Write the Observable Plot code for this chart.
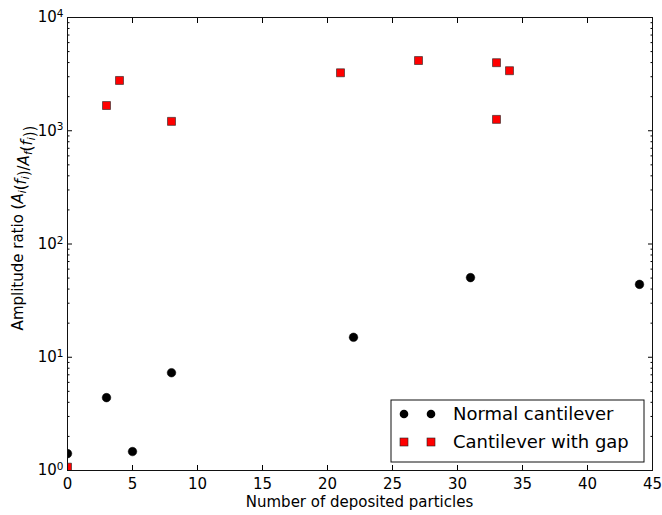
<!DOCTYPE html>
<html><head><meta charset="utf-8">
<script src="https://cdn.jsdelivr.net/npm/d3@7"></script>
<script src="https://cdn.jsdelivr.net/npm/@observablehq/plot@0.6"></script>
<style>body{margin:0;background:#fff}</style>
</head><body><div id="chart"></div>
<script>
// Data
const seriesNames = ["Normal cantilever", "Cantilever with gap"];
const normalX = [0, 3, 5, 8, 22, 31, 44];
const normalY = [1.41, 4.4, 1.47, 7.3, 15.0, 50.5, 44];
const gapX = [0, 3, 4, 8, 21, 27, 33, 34, 33];
const gapY = [1.07, 1670, 2780, 1210, 3250, 4170, 3990, 3390, 1260];
const xTicks = [0, 5, 10, 15, 20, 25, 30, 35, 40, 45];
const yMajor = [1, 10, 100, 1000, 10000];
const yMinor = [2,3,4,5,6,7,8,9,20,30,40,50,60,70,80,90,200,300,400,500,600,700,800,900,2000,3000,4000,5000,6000,7000,8000,9000];
const xLabel = "Number of deposited particles";

const normal = normalX.map((x, i) => ({x, y: normalY[i]}));
const gap = gapX.map((x, i) => ({x, y: gapY[i]}));

const font = "DejaVu Sans";
const chart = Plot.plot({
  width: 662, height: 515,
  marginLeft: 67, marginRight: 10, marginTop: 17, marginBottom: 45,
  style: {fontFamily: font, fontSize: "15px", color: "#000", background: "#fff"},
  x: {domain: [0, 45]},
  y: {type: "log", domain: [1, 10000]},
  marks: [
    Plot.axisX({anchor: "bottom", ticks: xTicks, tickSize: -5, tickPadding: 13, label: null, tickFormat: d => String(d)}),
    Plot.axisX({anchor: "top", ticks: xTicks, tickSize: -5, label: null, tickFormat: () => ""}),
    Plot.axisY({anchor: "left", ticks: yMajor, tickSize: -5, tickPadding: 9, label: null, tickFormat: d => "10|" + Math.round(Math.log10(d))}),
    Plot.axisY({anchor: "left", ticks: yMinor, tickSize: -2.5, label: null, tickFormat: () => ""}),
    Plot.axisY({anchor: "right", ticks: yMajor, tickSize: -5, label: null, tickFormat: () => ""}),
    Plot.axisY({anchor: "right", ticks: yMinor, tickSize: -2.5, label: null, tickFormat: () => ""}),
    Plot.dot(normal, {x: "x", y: "y", r: 4.3, fill: "#000", stroke: "#000", strokeWidth: 0.5, clip: true}),
    Plot.dot(gap, {x: "x", y: "y", symbol: "square", r: 4.5, fill: "#ff0000", stroke: "#222", strokeWidth: 0.6, clip: true}),
    Plot.frame({stroke: "#111", strokeWidth: 1})
  ]
});
document.getElementById("chart").appendChild(chart);

const svg = d3.select(chart);
// superscript tick labels on the log axis
svg.selectAll('g[aria-label="y-axis tick label"] text').each(function() {
  const t = this.textContent;
  if (!t.includes("|")) return;
  const [base, exp] = t.split("|");
  const el = d3.select(this);
  el.text("");
  el.append("tspan").text(base);
  el.append("tspan").attr("dy", "-0.5em").attr("font-size", "10.5px").text(exp);
});

// axis labels
svg.append("text")
  .attr("x", 359.5).attr("y", 507)
  .attr("text-anchor", "middle")
  .attr("font-family", font).attr("font-size", "15px")
  .text(xLabel);

const yl = svg.append("text")
  .attr("transform", "translate(23,228) rotate(-90)")
  .attr("text-anchor", "middle")
  .attr("font-family", font).attr("font-size", "15px");
yl.append("tspan").text("Amplitude ratio (");
const it = (s) => yl.append("tspan").attr("font-style", "italic").text(s);
const sub = (s) => { yl.append("tspan").attr("font-style", "italic").attr("font-size", "10.5px").attr("dy", "3").text(s); yl.append("tspan").attr("dy", "-3").text(""); };
it("A"); sub("i");
yl.append("tspan").text("(");
it("f"); sub("i");
yl.append("tspan").text(")/");
it("A"); sub("f");
yl.append("tspan").text("(");
it("f"); sub("i");
yl.append("tspan").text("))");

// legend
const lg = svg.append("g");
lg.append("rect").attr("x", 391).attr("y", 400).attr("width", 253).attr("height", 62)
  .attr("fill", "#fff").attr("stroke", "#111").attr("stroke-width", 1);
const rows = [414, 442];
seriesNames.forEach((name, i) => {
  [404, 431].forEach(cx => {
    if (i === 0) lg.append("circle").attr("cx", cx).attr("cy", rows[i]).attr("r", 4.3).attr("fill", "#000");
    else lg.append("rect").attr("x", cx - 4).attr("y", rows[i] - 4).attr("width", 8).attr("height", 8)
      .attr("fill", "#ff0000").attr("stroke", "#222").attr("stroke-width", 0.6);
  });
  lg.append("text").attr("x", 453).attr("y", rows[i]).attr("dy", "0.35em")
    .attr("text-anchor", "start")
    .attr("font-family", font).attr("font-size", "18px").text(name);
});
</script>
</body></html>
